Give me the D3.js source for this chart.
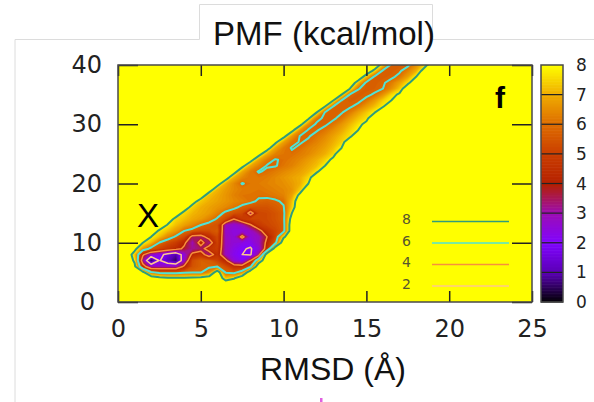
<!DOCTYPE html>
<html><head><meta charset="utf-8">
<script src="https://cdn.jsdelivr.net/npm/d3@7"></script>
<style>body{margin:0;background:#fff;} svg{display:block}</style>
</head><body><svg id="c" width="594" height="402"></svg>
<script>
// ---------- data ----------
const xTicks = [0, 5, 10, 15, 20, 25];
const yTicks = [0, 10, 20, 30, 40];
const cbTicks = [0, 1, 2, 3, 4, 5, 6, 7, 8];
const contourLevels = [8, 6, 4, 2];
const contourColors = ["#2f9c7c", "#4fe3d6", "#f7903c", "#ffc98a"];
const paletteLevels = [0, 1, 2, 3, 4, 5, 6, 7, 8];
const paletteColors = ["#000000", "#5a00b4", "#8004ff", "#9c0db4", "#b42000", "#ca3e00", "#dd6c00", "#efab00", "#ffff00"];
const gridStepX = 0.5, gridStepY = 1, gridNX = 51, gridNY = 41, background = 9;
// PMF: each row y, starting x, values every 0.5 Å (elsewhere = background)
const pmfRows = [
 {y:40,x0:15.5,v:[9,7.4,5.8,5.75,5.85,6.6,7.5,9]},
 {y:39,x0:15.0,v:[9,7.6,5.8,5.75,5.9,6.4,7.1,8.6,9]},
 {y:38,x0:14.5,v:[9,7.3,5.8,5.75,5.85,6.2,6.9,8.0,9]},
 {y:37,x0:14.0,v:[9,7.4,5.8,5.75,5.9,6.3,6.9,7.7,9]},
 {y:36,x0:13.5,v:[9,8.0,6.05,5.75,5.8,6.0,6.6,7.4,9]},
 {y:35,x0:13.0,v:[9,8.0,5.95,5.75,5.85,6.1,6.7,7.6,8.2,9]},
 {y:34,x0:12.5,v:[9,8.0,5.95,5.75,5.85,6.2,6.8,7.5,8.0,9]},
 {y:33,x0:12.0,v:[9,8.0,5.95,5.8,5.9,6.2,6.8,7.3,7.9,9]},
 {y:32,x0:11.5,v:[9,8.0,5.95,5.8,5.95,6.3,6.9,7.4,7.95,9]},
 {y:31,x0:11.0,v:[9,8.2,6.3,5.8,5.9,6.2,6.8,7.3,7.7,9]},
 {y:30,x0:10.5,v:[9,8.4,6.6,5.85,5.9,6.2,6.7,7.2,7.7,8.3,9]},
 {y:29,x0:10.0,v:[9,8.4,6.7,5.9,5.95,6.2,6.6,7.0,7.5,8.0,9]},
 {y:28,x0:9.5,v:[9,8.4,6.8,5.95,5.95,6.2,6.5,6.9,7.3,7.7,9]},
 {y:27,x0:9.0,v:[9,8.3,6.9,6.2,5.95,6.1,6.4,6.7,7.1,7.5,9]},
 {y:26,x0:8.5,v:[9,8.6,7.0,6.3,5.95,6.1,6.4,6.6,6.9,7.3,8.0,9]},
 {y:25,x0:8.0,v:[9,8.5,7.1,6.4,6.2,6.1,6.3,6.5,6.8,7.1,7.6,9]},
 {y:24,x0:7.5,v:[9,8.5,7.0,6.3,5.95,6.1,6.3,6.5,6.8,7.1,7.5,8.3,9]},
 {y:23,x0:7.0,v:[9,8.4,7.0,6.4,5.95,5.95,6.2,6.4,6.7,7.0,7.3,8.0,9]},
 {y:22,x0:6.5,v:[9,8.5,7.0,6.3,5.95,6.1,6.3,6.5,6.7,6.9,7.2,7.8,9]},
 {y:21,x0:6.0,v:[9,8.6,7.1,6.5,6.2,6.2,6.3,6.5,6.7,6.9,7.1,7.6,9]},
 {y:20,x0:5.5,v:[9,8.6,7.1,6.5,5.95,6.2,6.3,6.4,6.5,6.6,6.8,7.1,8.0,9]},
 {y:19,x0:5.0,v:[9,8.7,7.2,6.8,6.5,6.3,6.3,6.2,6.3,6.4,6.5,6.7,7.4,9]},
 {y:18,x0:4.5,v:[9,8.8,7.3,7.0,6.7,6.4,6.2,6.15,6.1,6.15,6.25,6.4,6.9,8.4,9]},
 {y:17,x0:4.0,v:[9,8.6,7.4,7.1,6.9,6.7,6.5,6.35,6.15,5.9,5.8,5.9,6.1,7.3,9]},
 {y:16,x0:3.5,v:[9,8.8,7.5,7.1,6.9,6.7,6.5,6.2,5.8,5.6,5.5,5.5,5.7,5.95,7.5,9]},
 {y:15,x0:3.0,v:[9,8.8,7.6,7.2,7.0,6.8,6.4,5.8,5.5,5.3,3.4,5.2,5.3,5.5,5.8,8.0,9]},
 {y:14,x0:2.5,v:[9,8.8,7.6,7.3,7.0,6.8,6.4,5.9,5.3,4.0,4.9,5.2,5.2,5.3,5.5,5.8,8.6,9]},
 {y:13,x0:2.0,v:[9,8.9,7.9,7.3,6.9,6.5,6.0,5.7,5.5,3.0,2.7,3.0,3.9,4.9,5.2,5.4,5.7,9]},
 {y:12,x0:1.5,v:[9,8.8,7.8,7.3,6.8,6.0,5.7,5.4,5.4,5.7,2.8,2.5,2.5,2.8,3.6,4.7,5.2,5.7,9]},
 {y:11,x0:1.0,v:[9,8.8,8.0,7.3,6.5,5.85,5.3,3.6,3.5,4.5,5.3,2.9,2.6,4.4,2.6,2.9,4.0,5.2,7.8,9]},
 {y:10,x0:0.5,v:[9,8.9,8.0,7.2,5.95,5.4,5.0,4.2,3.0,4.5,3.2,5.2,2.9,2.6,2.4,2.3,2.9,4.3,5.7,9]},
 {y:9,x0:0.5,v:[9,8.4,6.7,5.7,5.2,4.8,4.4,3.8,3.2,3.5,4.7,5.0,2.9,2.4,2.1,1.9,2.6,4.6,9]},
 {y:8,x0:0.0,v:[9,9,7.4,4.2,2.8,2.4,1.6,1.0,2.6,4.3,4.7,3.2,4.7,2.9,2.3,2.0,1.9,3.4,9]},
 {y:7,x0:0.0,v:[9,9,7.8,3.2,0.5,2.1,1.2,0.6,2.8,5.4,5.8,5.7,5.2,4.3,2.6,2.2,4.0,7.2,9]},
 {y:6,x0:0.5,v:[9,8.3,4.6,2.9,3.0,2.9,3.0,4.2,5.5,5.8,5.85,5.95,5.4,4.6,4.5,5.8,9]},
 {y:5,x0:1.0,v:[9,8.4,6.2,5.7,5.6,5.6,5.8,5.9,5.95,6.6,8.8,5.9,5.7,6.6,9]},
 {y:4,x0:2.0,v:[9,8.5,8.2,8.2,8.2,8.3,8.4,8.7,9,7.4,7.9,9]}
];
const legendLabels = ["8", "6", "4", "2"];

// ---------- layout ----------
const svg = d3.select("#c");
const x = d3.scaleLinear().domain([0, 25]).range([118, 532]);
const y = d3.scaleLinear().domain([0, 40]).range([302, 65]);
const cb = d3.scaleLinear().domain([0, 8]).range([302, 65]);
const color = d3.scaleLinear().domain(paletteLevels).range(paletteColors).clamp(true);

// faint frame lines of the source figure
svg.append("path").attr("d", "M15,402V39.5H199.5V4.5H432.5V39.5H594")
  .attr("fill", "none").attr("stroke", "#dcdcdc").attr("stroke-width", 1);
svg.append("rect").attr("x", 320).attr("y", 398).attr("width", 2.5).attr("height", 4).attr("fill", "#e060e0");

// grid
const values = new Array(gridNX * gridNY).fill(background);
pmfRows.forEach(r => r.v.forEach((val, k) => {
  const i = Math.round(r.x0 / gridStepX) + k;
  const j = Math.round(r.y / gridStepY);
  values[j * gridNX + i] = val;
}));
const proj = d3.geoTransform({point(px, py) {
  this.stream.point(x((px - 0.5) * gridStepX), y((py - 0.5) * gridStepY));
}});
const path = d3.geoPath(proj);

svg.append("clipPath").attr("id", "clip").append("rect")
  .attr("x", 118).attr("y", 65).attr("width", 414).attr("height", 237);
const plot = svg.append("g").attr("clip-path", "url(#clip)");
plot.append("rect").attr("x", 118).attr("y", 65).attr("width", 414).attr("height", 237).attr("fill", color(8));

const fillLevels = d3.range(0, 81).map(i => i / 10);
const bands = d3.contours().size([gridNX, gridNY]).thresholds(fillLevels)(values);
plot.selectAll("path.band").data(bands).join("path").attr("class", "band")
  .attr("d", path).attr("fill", d => color(d.value));

const lines = d3.contours().size([gridNX, gridNY]).thresholds(contourLevels)(values);
plot.selectAll("path.iso").data(lines).join("path").attr("class", "iso")
  .attr("d", path).attr("fill", "none")
  .attr("stroke", d => contourColors[contourLevels.indexOf(d.value)])
  .attr("stroke-width", d => d.value >= 6 ? 2 : 1.5)
  .attr("stroke-linejoin", "round");

// legend
const lg = svg.append("g");
const legY = [221.5, 243, 264.5, 286];
contourLevels.forEach((lv, i) => {
  lg.append("line").attr("x1", 432).attr("x2", 509).attr("y1", legY[i]).attr("y2", legY[i])
    .attr("stroke", contourColors[i]).attr("stroke-width", 1.6);
  lg.append("text").attr("x", 411).attr("y", legY[i] - 2).attr("dy", "0.35em")
    .attr("text-anchor", "end").attr("font-family", "DejaVu Sans").attr("font-size", 14)
    .attr("fill", "#55552e").text(legendLabels[i]);
});

// axes
function styleAxis(g, fs) {
  g.select(".domain").remove();
  g.selectAll(".tick line").attr("stroke", "#222").attr("stroke-width", 1.5);
  g.attr("font-family", "DejaVu Sans").attr("font-size", fs);
  g.selectAll("text").attr("fill", "#222");
}
svg.append("g").attr("transform", "translate(0,302)")
  .call(d3.axisBottom(x).tickValues(xTicks).tickSize(-11).tickPadding(18)).call(g => styleAxis(g, 24));
svg.append("g").attr("transform", "translate(0,65)")
  .call(d3.axisTop(x).tickValues(xTicks).tickSize(-11).tickFormat("")).call(g => styleAxis(g, 24));
const gl = svg.append("g").attr("transform", "translate(118,0)")
  .call(d3.axisLeft(y).tickValues(yTicks).tickSize(-20).tickPadding(16)).call(g => styleAxis(g, 24));
gl.selectAll(".tick text").filter(d => d === 0).attr("x", -23);
svg.append("g").attr("transform", "translate(532,0)")
  .call(d3.axisRight(y).tickValues(yTicks).tickSize(-20).tickFormat("")).call(g => styleAxis(g, 24));

svg.append("rect").attr("x", 118).attr("y", 65).attr("width", 414).attr("height", 237)
  .attr("fill", "none").attr("stroke", "#4a4a4a").attr("stroke-width", 1.5);

// colorbar
const cbG = svg.append("g");
const step = 0.05;
cbG.selectAll("rect.cb").data(d3.range(0, 8, step)).join("rect").attr("class", "cb")
  .attr("x", 541).attr("width", 22)
  .attr("y", d => cb(d + step)).attr("height", d => cb(d) - cb(d + step) + 0.6)
  .attr("fill", d => color(d + step / 2));
cbG.selectAll("line.cbt").data(cbTicks.slice(1, -1)).join("line").attr("class", "cbt")
  .attr("x1", 541).attr("x2", 563).attr("y1", d => cb(d)).attr("y2", d => cb(d))
  .attr("stroke", "#222").attr("stroke-width", 1.2);
cbG.append("rect").attr("x", 541).attr("y", 65).attr("width", 22).attr("height", 237)
  .attr("fill", "none").attr("stroke", "#4a4a4a").attr("stroke-width", 1.5);
cbG.selectAll("text").data(cbTicks).join("text")
  .attr("x", 576).attr("y", d => cb(d)).attr("dy", "0.36em")
  .attr("font-family", "DejaVu Sans").attr("font-size", 17).attr("fill", "#222").text(d => d);

// texts
svg.append("text").attr("x", 324).attr("y", 45).attr("text-anchor", "middle")
  .attr("font-family", "Liberation Sans").attr("font-size", 33).attr("fill", "#111").text("PMF (kcal/mol)");
svg.append("text").attr("x", 333).attr("y", 380).attr("text-anchor", "middle")
  .attr("font-family", "Liberation Sans").attr("font-size", 32).attr("fill", "#111").text("RMSD (Å)");
svg.append("text").attr("x", 148).attr("y", 227).attr("text-anchor", "middle")
  .attr("font-family", "Liberation Sans").attr("font-size", 33).attr("fill", "#000").text("X");
svg.append("text").attr("x", 500).attr("y", 108).attr("text-anchor", "middle")
  .attr("font-family", "Liberation Sans").attr("font-weight", "bold").attr("font-size", 30).attr("fill", "#000").text("f");
</script></body></html>
